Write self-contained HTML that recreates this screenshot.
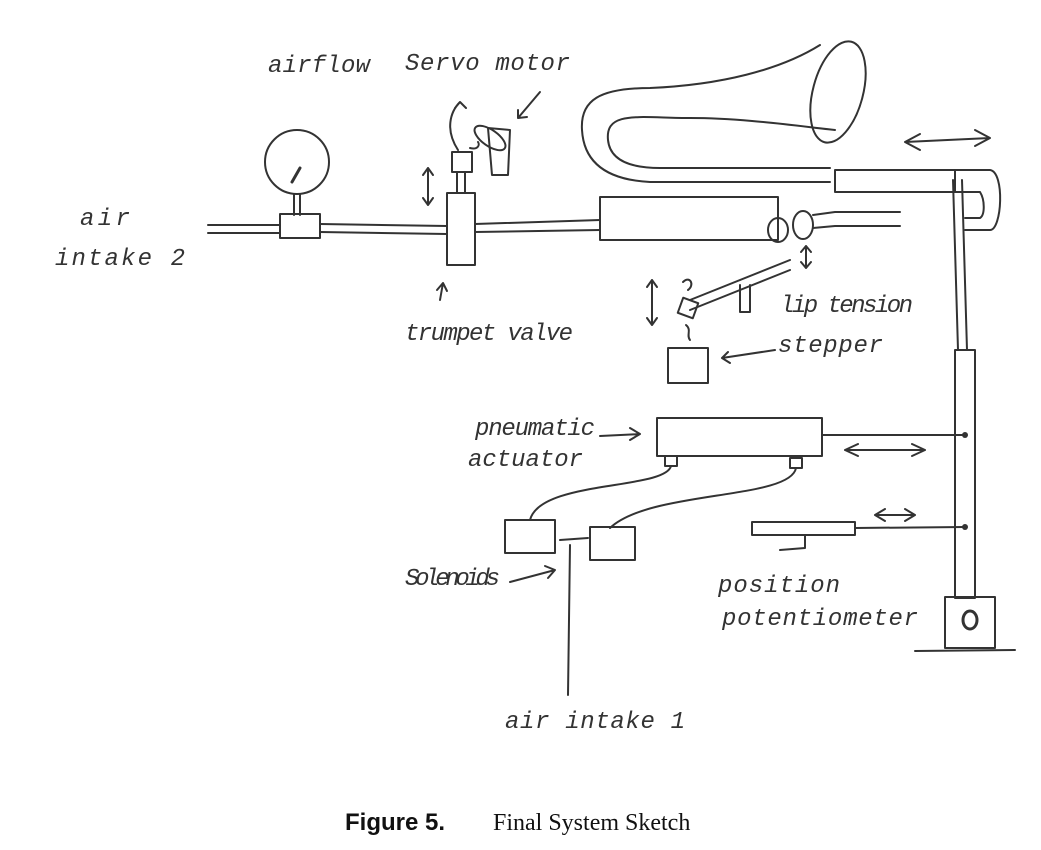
<!DOCTYPE html>
<html><head><meta charset="utf-8"><style>
html,body{margin:0;padding:0;background:#fff;}
svg{display:block}
.h{font-family:"Liberation Mono",monospace;font-size:24px;fill:#333;font-style:italic}
</style></head><body>
<svg width="1041" height="850" viewBox="0 0 1041 850" xmlns="http://www.w3.org/2000/svg">
<g fill="none" stroke="#333" stroke-width="2" stroke-linecap="round" stroke-linejoin="round">
<circle cx="297" cy="162" r="32"/>
<line x1="292" y1="182" x2="300" y2="168" stroke-width="3"/>
<line x1="294" y1="194" x2="294" y2="215"/><line x1="300" y1="194" x2="300" y2="215"/>
<rect x="280" y="214" width="40" height="24"/>
<path d="M208 225 L280 225 M208 233 L280 233 M320 224 L447 226 M320 232 L447 234 M475 224 L600 220 M475 232 L600 230"/>
<rect x="447" y="193" width="28" height="72"/>
<line x1="457" y1="172" x2="457" y2="193"/><line x1="465" y1="172" x2="465" y2="193"/>
<rect x="452" y="152" width="20" height="20"/>
<path d="M428 168 L428 205 M423 175 L428 168 L433 175 M423 198 L428 205 L433 198"/>
<path d="M488 128 L510 130 L508 175 L492 175 Z"/>
<ellipse cx="490" cy="138" rx="18" ry="8" transform="rotate(35 490 138)"/>
<path d="M458 150 C445 130 450 112 460 102 M455 108 L460 102 L466 108 M470 148 C478 150 480 145 478 142"/>
<path d="M518 118 L540 92 M518 110 L518 118 L527 117"/>
<rect x="600" y="197" width="178" height="43"/>
<ellipse cx="778" cy="230" rx="10" ry="12"/>
<ellipse cx="803" cy="225" rx="10" ry="14"/>
<path d="M813 215 L835 212 L900 212 M813 228 L835 226 L900 226"/>
<ellipse cx="838" cy="92" rx="25" ry="52" transform="rotate(15 838 92)"/>
<path d="M820 45 C780 70 720 85 650 88 C600 88 580 100 582 130 C584 165 610 180 650 182 L830 182"/>
<path d="M835 130 C790 125 740 118 690 118 C640 118 605 110 608 140 C610 160 630 168 660 168 L830 168"/>
<rect x="835" y="170" width="120" height="22"/>
<path d="M955 170 L990 170 C1005 172 1002 230 990 230 L965 230 M955 192 L980 192 C985 200 985 215 980 218 L965 218"/>
<path d="M905 142 L990 138 M905 142 L920 134 M905 142 L920 150 M990 138 L975 130 M990 138 L975 146"/>
<line x1="953" y1="180" x2="958" y2="350"/><line x1="962" y1="180" x2="967" y2="350"/>
<rect x="955" y="350" width="20" height="248"/>
<rect x="945" y="597" width="50" height="51"/>
<ellipse cx="970" cy="620" rx="7" ry="9" stroke-width="3"/>
<line x1="915" y1="651" x2="1015" y2="650"/>
<path d="M806 246 L806 268 M801 252 L806 246 L811 252 M801 262 L806 268 L811 262"/>
<path d="M690 300 L790 260 M690 310 L790 270"/>
<rect x="680" y="300" width="16" height="16" transform="rotate(20 688 308)"/>
<path d="M740 285 L740 312 L750 312 L750 285"/>
<path d="M683 282 C690 275 695 285 688 290 M686 325 C692 330 686 335 690 340"/>
<rect x="668" y="348" width="40" height="35"/>
<path d="M652 280 L652 325 M647 287 L652 280 L657 287 M647 318 L652 325 L657 318"/>
<path d="M722 358 L775 350 M728 352 L722 358 L730 363"/>
<path d="M440 300 L443 283 M437 290 L443 283 L447 291"/>
<rect x="657" y="418" width="165" height="38"/>
<path d="M600 436 L640 434 M630 428 L640 434 L630 440"/>
<line x1="822" y1="435" x2="965" y2="435"/>
<path d="M845 450 L925 450 M845 450 L858 444 M845 450 L858 456 M925 450 L912 444 M925 450 L912 456"/>
<rect x="665" y="456" width="12" height="10"/><rect x="790" y="458" width="12" height="10"/>
<path d="M671 466 C665 490 540 480 530 520"/>
<path d="M796 468 C790 500 650 490 610 528"/>
<rect x="505" y="520" width="50" height="33"/>
<rect x="590" y="527" width="45" height="33"/>
<path d="M560 540 L588 538"/>
<path d="M570 545 L568 695"/>
<path d="M510 582 L555 570 M545 566 L555 570 L548 578"/>
<rect x="752" y="522" width="103" height="13"/>
<line x1="855" y1="528" x2="965" y2="527"/>
<path d="M875 515 L915 515 M875 515 L885 509 M875 515 L885 521 M915 515 L905 509 M915 515 L905 521"/>
<path d="M805 535 L805 548 L780 550"/>
</g>
<g fill="#333">
<circle cx="965" cy="435" r="3"/><circle cx="965" cy="527" r="3"/>
</g>
<text class="h" x="268" y="72" textLength="102">airflow</text>
<text class="h" x="405" y="70" textLength="165">Servo motor</text>
<text class="h" x="80" y="225" textLength="50">air</text>
<text class="h" x="55" y="265" textLength="130">intake 2</text>
<text class="h" x="405" y="340" textLength="168">trumpet valve</text>
<text class="h" x="780" y="312" textLength="133">lip tension</text>
<text class="h" x="778" y="352" textLength="105">stepper</text>
<text class="h" x="475" y="435" textLength="120">pneumatic</text>
<text class="h" x="468" y="466" textLength="115">actuator</text>
<text class="h" x="405" y="585" textLength="95">Solenoids</text>
<text class="h" x="718" y="592" textLength="122">position</text>
<text class="h" x="722" y="625" textLength="196">potentiometer</text>
<text class="h" x="505" y="728" textLength="180">air intake 1</text>
<text x="345" y="830" font-family="Liberation Sans,sans-serif" font-weight="bold" font-size="24" fill="#111">Figure 5.</text>
<text x="493" y="830" font-family="Liberation Serif,serif" font-size="24" fill="#111">Final System Sketch</text>
</svg>
</body></html>
